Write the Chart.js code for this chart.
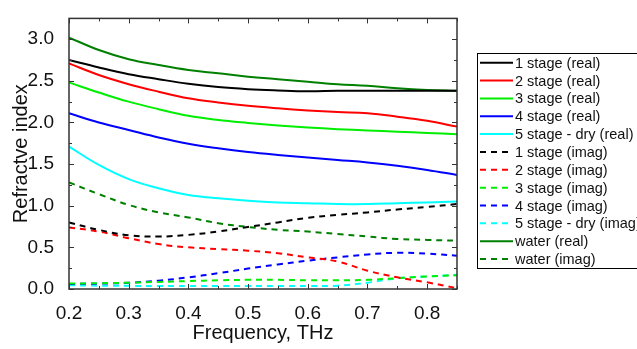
<!DOCTYPE html>
<html>
<head>
<meta charset="utf-8">
<script src="https://cdn.jsdelivr.net/npm/chart.js@4/dist/chart.umd.min.js"></script>
<style>
  html, body { margin: 0; padding: 0; background: #fff; }
  #wrap { width: 637px; height: 349px; position: relative; }
</style>
</head>
<body>
<div id="wrap"><canvas id="c" width="637" height="349"></canvas></div>
<script>
// Frequency (THz)
const freq = [0.20, 0.25, 0.30, 0.35, 0.40, 0.45, 0.50, 0.55, 0.60, 0.65, 0.70, 0.75, 0.80, 0.85];

// Real parts
const stage1Real = [2.75, 2.66, 2.58, 2.52, 2.465, 2.425, 2.40, 2.385, 2.375, 2.38, 2.38, 2.38, 2.38, 2.38];
const stage2Real = [2.71, 2.57, 2.46, 2.37, 2.29, 2.24, 2.20, 2.17, 2.145, 2.125, 2.11, 2.07, 2.02, 1.95];
const stage3Real = [2.48, 2.36, 2.25, 2.16, 2.08, 2.03, 1.995, 1.965, 1.94, 1.92, 1.905, 1.89, 1.875, 1.86];
const stage4Real = [2.11, 2.00, 1.91, 1.82, 1.745, 1.69, 1.645, 1.61, 1.58, 1.55, 1.52, 1.48, 1.43, 1.37];
const stage5DryReal = [1.71, 1.49, 1.32, 1.21, 1.13, 1.09, 1.06, 1.04, 1.03, 1.02, 1.02, 1.03, 1.04, 1.05];

// Imaginary parts
const stage1Imag = [0.80, 0.71, 0.645, 0.63, 0.65, 0.69, 0.745, 0.80, 0.855, 0.89, 0.92, 0.955, 0.985, 1.02];
const stage2Imag = [0.74, 0.69, 0.61, 0.54, 0.50, 0.48, 0.46, 0.43, 0.38, 0.33, 0.22, 0.14, 0.08, 0.01];
const stage3Imag = [0.065, 0.07, 0.075, 0.085, 0.095, 0.105, 0.11, 0.11, 0.105, 0.105, 0.11, 0.13, 0.15, 0.165];
const stage4Imag = [0.06, 0.065, 0.075, 0.10, 0.14, 0.19, 0.245, 0.295, 0.34, 0.38, 0.415, 0.435, 0.425, 0.40];
const stage5DryImag = [0.045, 0.04, 0.038, 0.035, 0.035, 0.035, 0.035, 0.035, 0.035, 0.04, 0.075, 0.13, 0.15, 0.17];

// Water
const waterReal = [3.02, 2.87, 2.76, 2.69, 2.63, 2.59, 2.55, 2.52, 2.49, 2.46, 2.44, 2.41, 2.39, 2.38];
const waterImag = [1.28, 1.14, 1.01, 0.92, 0.86, 0.79, 0.745, 0.71, 0.69, 0.66, 0.63, 0.60, 0.59, 0.58];

// Tick labels
const xTickLabels = [0.2, 0.3, 0.4, 0.5, 0.6, 0.7, 0.8];
const yTickLabels = [0.0, 0.5, 1.0, 1.5, 2.0, 2.5, 3.0];

const seriesLabels = [
  '1 stage (real)', '2 stage (real)', '3 stage (real)', '4 stage (real)', '5 stage - dry (real)',
  '1 stage (imag)', '2 stage (imag)', '3 stage (imag)', '4 stage (imag)', '5 stage - dry (imag)',
  'water (real)', 'water (imag)'
];
const seriesValues = [
  stage1Real, stage2Real, stage3Real, stage4Real, stage5DryReal,
  stage1Imag, stage2Imag, stage3Imag, stage4Imag, stage5DryImag,
  waterReal, waterImag
];
const seriesColors = ['#000000', '#ff0000', '#00ee00', '#0000ff', '#00ffff',
                      '#000000', '#ff0000', '#00ee00', '#0000ff', '#00ffff',
                      '#008000', '#008000'];
const seriesDashed = [false, false, false, false, false, true, true, true, true, true, false, true];

const DASH = [6, 5];

const datasets = seriesLabels.map((lab, i) => ({
  label: lab,
  data: freq.map((f, j) => ({ x: f, y: seriesValues[i][j] })),
  borderColor: seriesColors[i],
  backgroundColor: seriesColors[i],
  borderWidth: 2,
  borderDash: seriesDashed[i] ? DASH : [],
  pointRadius: 0,
  fill: false,
  tension: 0.4
}));

const FONT = '"Liberation Sans", Arial, sans-serif';

const framePlugin = {
  id: 'frame',
  afterDraw(chart) {
    const ctx = chart.ctx;
    const a = chart.chartArea;
    const xs = chart.scales.x, ys = chart.scales.y;
    ctx.save();
    ctx.strokeStyle = '#333';
    ctx.lineWidth = 1.5;
    ctx.strokeRect(a.left, a.top, a.right - a.left, a.bottom - a.top);
    ctx.lineWidth = 1;
    ctx.beginPath();
    for (let k = 0; k <= 13; k++) {
      const v = 0.2 + k * 0.05;
      const px = Math.round(xs.getPixelForValue(v)) + 0.5;
      const len = (k % 2 === 0) ? 5 : 3;
      ctx.moveTo(px, a.bottom); ctx.lineTo(px, a.bottom - len);
      ctx.moveTo(px, a.top); ctx.lineTo(px, a.top + len);
    }
    for (let k = 0; k <= 13; k++) {
      const v = k * 0.25;
      const py = Math.round(ys.getPixelForValue(v)) + 0.5;
      const len = (k % 2 === 0) ? 5 : 3;
      ctx.moveTo(a.left, py); ctx.lineTo(a.left + len, py);
      ctx.moveTo(a.right, py); ctx.lineTo(a.right - len, py);
    }
    ctx.stroke();

    // Legend box
    const lx = 477, ly = 53.5, lh = 215, rowH = 17.85, firstY = 62.7;
    ctx.strokeStyle = '#000';
    ctx.lineWidth = 1;
    ctx.strokeRect(lx + 0.5, ly, 200, lh);
    ctx.font = '14.5px ' + FONT;
    ctx.textBaseline = 'middle';
    ctx.textAlign = 'left';
    chart.data.datasets.forEach((ds, i) => {
      const y = firstY + i * rowH;
      ctx.strokeStyle = ds.borderColor;
      ctx.lineWidth = 2;
      ctx.setLineDash(ds.borderDash && ds.borderDash.length ? [6, 5] : []);
      ctx.beginPath();
      ctx.moveTo(480, y); ctx.lineTo(513, y);
      ctx.stroke();
      ctx.setLineDash([]);
      ctx.fillStyle = '#111';
      ctx.fillText(ds.label, 515, y + 1);
    });
    ctx.restore();
  }
};

new Chart(document.getElementById('c'), {
  type: 'line',
  data: { datasets },
  options: {
    responsive: false,
    animation: false,
    devicePixelRatio: 1,
    layout: { padding: { left: 0, top: 10, right: 180, bottom: 0 } },
    plugins: { legend: { display: false }, tooltip: { enabled: false } },
    scales: {
      x: {
        type: 'linear',
        min: 0.2, max: 0.85,
        grid: { display: false },
        border: { display: false },
        afterBuildTicks: (s) => { s.ticks = xTickLabels.map(v => ({ value: v })); },
        afterFit: (s) => { s.height = 60; },
        ticks: {
          padding: 5,
          color: '#111',
          font: { family: FONT, size: 19 },
          maxRotation: 0,
          autoSkip: false,
          callback: (v) => Number(v).toFixed(1)
        },
        title: {
          display: true,
          text: 'Frequency, THz',
          color: '#111',
          font: { family: FONT, size: 20 },
          padding: { top: 0, bottom: 4 }
        }
      },
      y: {
        type: 'linear',
        min: 0, max: 3.25,
        grid: { display: false },
        border: { display: false },
        afterBuildTicks: (s) => { s.ticks = yTickLabels.map(v => ({ value: v })); },
        afterFit: (s) => { s.width = 69; },
        ticks: {
          padding: 7,
          color: '#111',
          font: { family: FONT, size: 19 },
          autoSkip: false,
          callback: (v) => Number(v).toFixed(1)
        },
        title: {
          display: true,
          text: 'Refractve index',
          color: '#111',
          font: { family: FONT, size: 20 },
          padding: { top: 9, bottom: 0 }
        }
      }
    }
  },
  plugins: [framePlugin]
});
</script>
</body>
</html>
